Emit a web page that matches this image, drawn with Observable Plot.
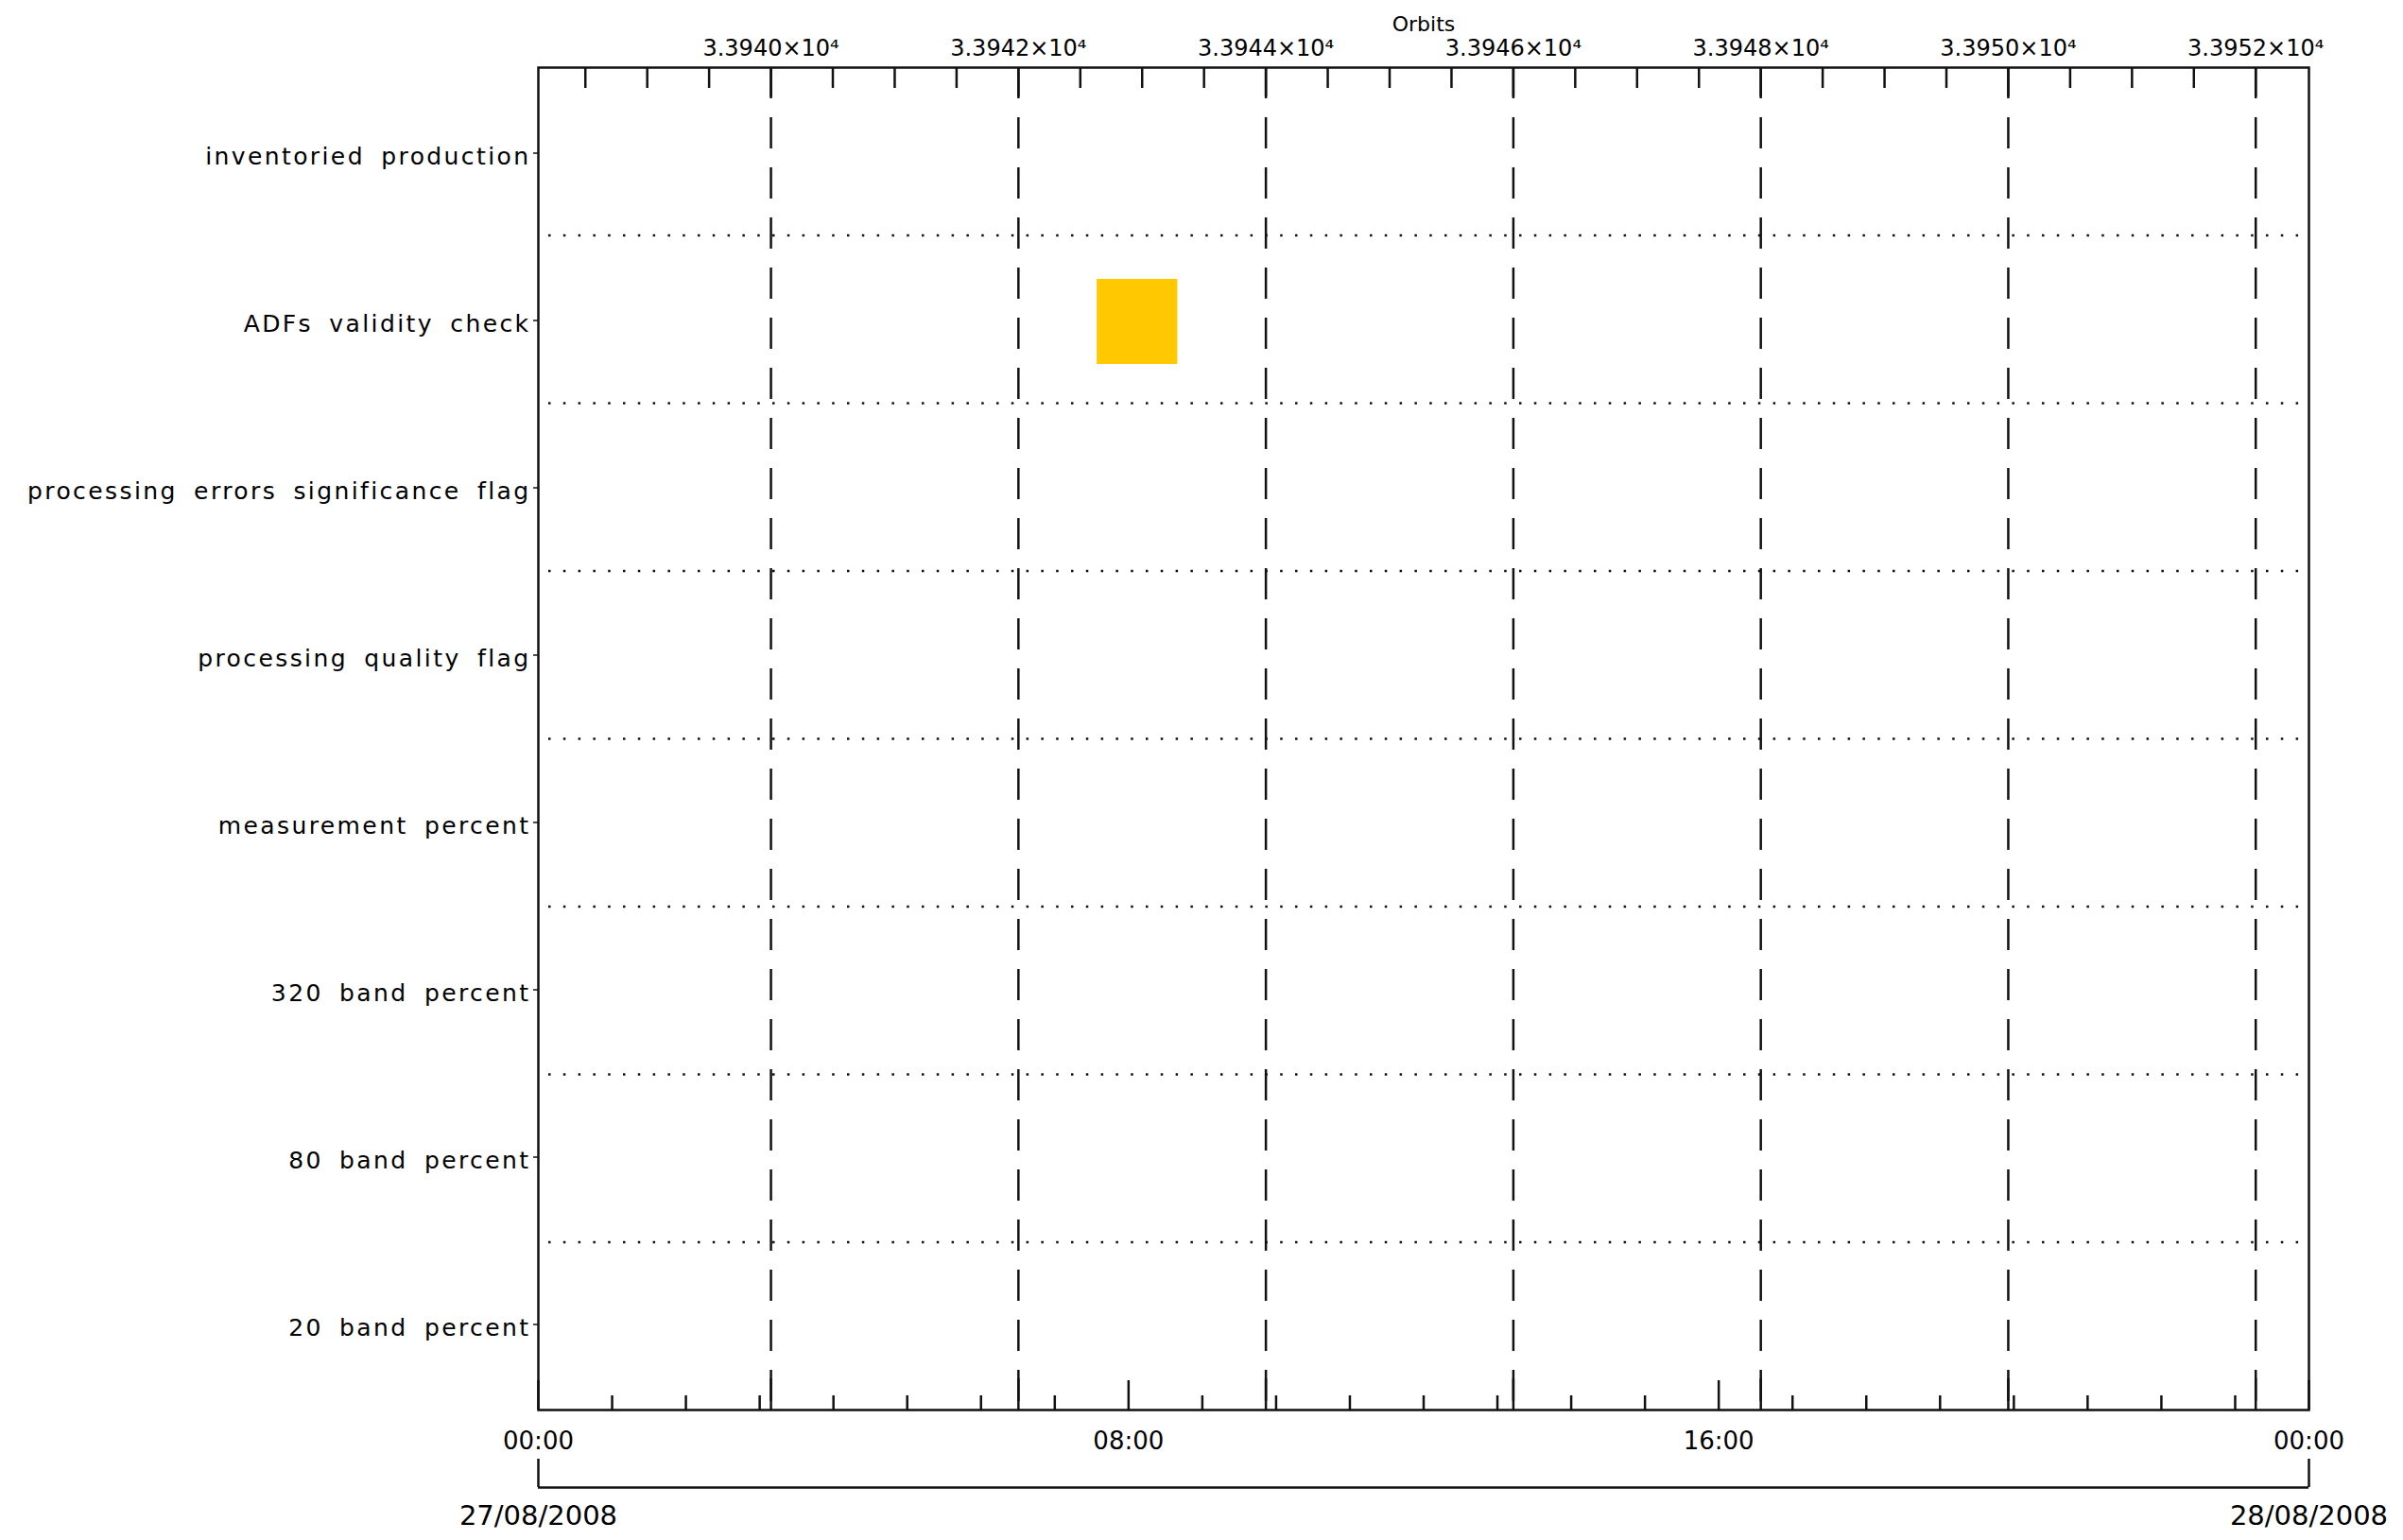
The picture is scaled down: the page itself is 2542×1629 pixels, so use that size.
<!DOCTYPE html>
<html>
<head>
<meta charset="utf-8">
<script src="https://cdn.jsdelivr.net/npm/d3@7"></script>
<script src="https://cdn.jsdelivr.net/npm/@observablehq/plot@0.6"></script>
<style>
html, body { margin: 0; padding: 0; background: #fff; }
#chart { position: relative; width: 2542px; height: 1629px; }
#chart svg { position: absolute; left: 0; top: 0; max-width: none; }
#chart g[aria-label="y-axis tick label"] text { letter-spacing: 2.4px; word-spacing: 7px; }
</style>
</head>
<body>
<div id="chart"></div>
<script>
// ---- data ----
const categories = [
  "inventoried production",
  "ADFs validity check",
  "processing errors significance flag",
  "processing quality flag",
  "measurement percent",
  "320 band percent",
  "80 band percent",
  "20 band percent"
];
const dayStart = new Date("2008-08-27T00:00:00Z");
const dayEnd = new Date("2008-08-28T00:00:00Z");

const eventCategory = ["ADFs validity check"];
const eventStart = [new Date("2008-08-27T07:34:30Z")];
const eventEnd = [new Date("2008-08-27T08:40:00Z")];
const eventColor = ["#ffc800"];

const orbitDomain = [33938.12, 33952.43];
const orbitMajorTicks = [33940, 33942, 33944, 33946, 33948, 33950, 33952];
const orbitMinorTicks = [33938.5, 33939, 33939.5, 33940.5, 33941, 33941.5, 33942.5, 33943, 33943.5,
  33944.5, 33945, 33945.5, 33946.5, 33947, 33947.5, 33948.5, 33949, 33949.5,
  33950.5, 33951, 33951.5];

const timeMajorTicks = ["2008-08-27T00:00:00Z", "2008-08-27T08:00:00Z", "2008-08-27T16:00:00Z", "2008-08-28T00:00:00Z"].map(s => new Date(s));
const timeMinorTicks = [1, 2, 3, 4, 5, 6, 7, 9, 10, 11, 12, 13, 14, 15, 17, 18, 19, 20, 21, 22, 23]
  .map(h => new Date(Date.UTC(2008, 7, 27, h)));
const dateLabels = [dayStart, dayEnd];

const events = eventCategory.map((c, i) => ({category: c, start: eventStart[i], end: eventEnd[i], color: eventColor[i]}));

// ---- layout ----
const W = 2542, H = 1629;
const mL = 569, mR = 100, mT = 71, mB = 138;
const frameH = H - mT - mB;
const ink = "#111";
const lw = 2.5;

const fmtTime = d3.utcFormat("%H:%M");
const fmtDate = d3.utcFormat("%d/%m/%Y");
const fmtOrbit = v => (v / 1e4).toFixed(4) + "×10⁴";

const baseStyle = {fontFamily: "'DejaVu Sans', sans-serif", fontSize: "25px", color: "#000", background: "none", overflow: "visible"};

const main = Plot.plot({
  width: W, height: H,
  marginLeft: mL, marginRight: mR, marginTop: mT, marginBottom: mB,
  style: baseStyle,
  x: {type: "utc", domain: [dayStart, dayEnd], axis: null},
  y: {type: "band", domain: categories, padding: 0, axis: null},
  color: {type: "identity"},
  marks: [
    Plot.barX(events, {x1: "start", x2: "end", y: "category", fill: "color", insetTop: 45, insetBottom: 42}),
    Plot.axisY({anchor: "left", tickSize: 5, text: null, label: null, stroke: ink, strokeWidth: 1.5}),
    Plot.axisY({anchor: "left", tickSize: 0, tickPadding: 8, dy: 4, fontSize: 25, label: null}),
    Plot.ruleX(timeMinorTicks, {insetTop: frameH - 15, stroke: ink, strokeWidth: lw}),
    Plot.ruleX(timeMajorTicks, {insetTop: frameH - 31, stroke: ink, strokeWidth: lw}),
    Plot.text(timeMajorTicks, {x: d => d, text: d => fmtTime(d), frameAnchor: "bottom", dy: 41, fontSize: 26, fill: "#000"}),
    Plot.ruleX(dateLabels, {insetTop: frameH + 52, insetBottom: -82, stroke: ink, strokeWidth: lw}),
    Plot.text(dateLabels, {x: d => d, text: d => fmtDate(d), frameAnchor: "bottom", dy: 121, fontSize: 29, fill: "#000"})
  ]
});

const overlay = Plot.plot({
  width: W, height: H,
  marginLeft: mL, marginRight: mR, marginTop: mT, marginBottom: mB,
  style: baseStyle,
  x: {domain: orbitDomain, axis: null},
  y: {domain: [0, categories.length], reverse: true, axis: null},
  marks: [
    Plot.ruleY(d3.range(1, categories.length), {stroke: ink, strokeWidth: lw, strokeDasharray: "2.5 13.3", insetLeft: 11, insetRight: 10}),
    Plot.ruleX(orbitMajorTicks, {stroke: ink, strokeWidth: lw, strokeDasharray: "33 20"}),
    Plot.ruleX(orbitMajorTicks, {insetBottom: frameH - 31, stroke: ink, strokeWidth: lw}),
    Plot.ruleX(orbitMajorTicks, {insetTop: frameH - 33, stroke: ink, strokeWidth: lw}),
    Plot.ruleX(orbitMinorTicks, {insetBottom: frameH - 22, stroke: ink, strokeWidth: lw}),
    Plot.text(orbitMajorTicks, {x: d => d, text: d => fmtOrbit(d), frameAnchor: "top", dy: -30, fontSize: 24, fill: "#000"}),
    Plot.text(["Orbits"], {text: d => d, frameAnchor: "top", dy: -54, fontSize: 22, fill: "#000"}),
    Plot.ruleY([categories.length], {dy: 82, stroke: ink, strokeWidth: lw}),
    Plot.frame({stroke: ink, strokeWidth: lw})
  ]
});

const chart = document.getElementById("chart");
chart.appendChild(main);
chart.appendChild(overlay);
</script>
</body>
</html>
